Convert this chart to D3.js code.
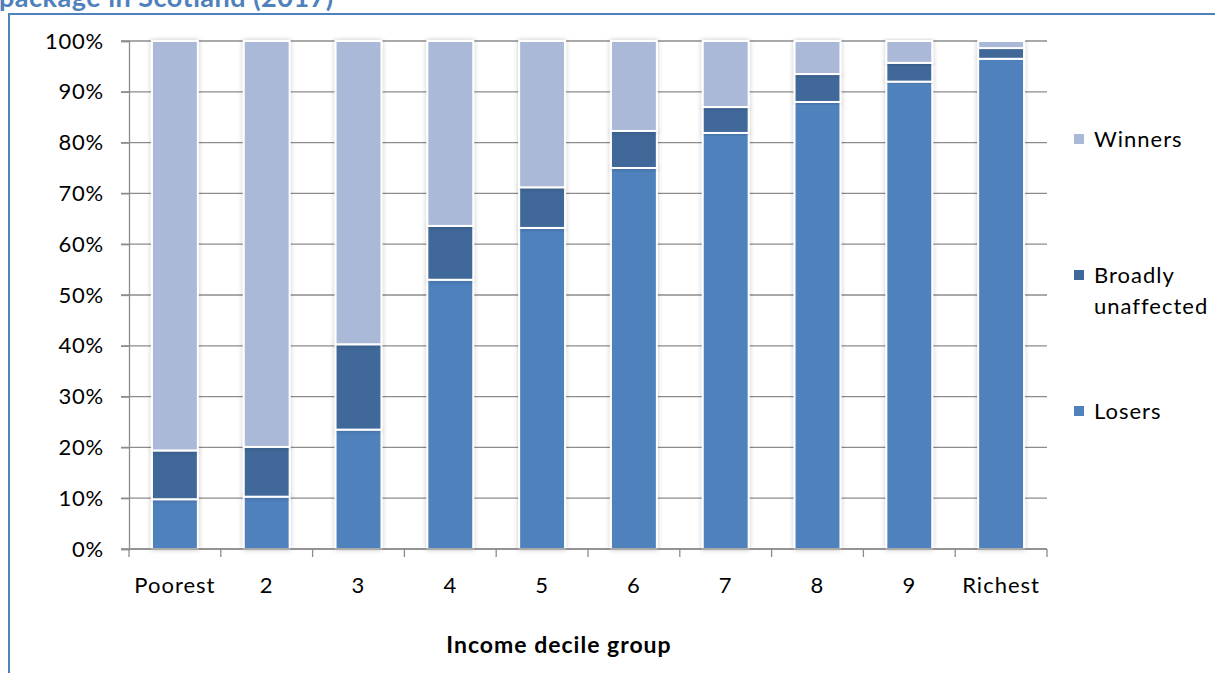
<!DOCTYPE html>
<html><head><meta charset="utf-8">
<script src="https://cdn.jsdelivr.net/npm/d3@7"></script>
<style>
body{margin:0;background:#fff;}
text{font-family:Lato,"Open Sans",sans-serif;}
</style></head>
<body>
<svg id="c" width="1215" height="673"></svg>
<script>
const categories = ["Poorest","2","3","4","5","6","7","8","9","Richest"];
const losers     = [9.8, 10.3, 23.5, 53.0, 63.2, 75.0, 81.9, 88.0, 92.0, 96.5];
const unaffected = [9.6, 9.8, 16.8, 10.6, 8.0, 7.3, 5.1, 5.5, 3.7, 2.1];
const winners    = categories.map((c,i)=> +(100 - losers[i] - unaffected[i]).toFixed(1));
const seriesNames = ["Losers","Broadly unaffected","Winners"];
const yTicks = [0,10,20,30,40,50,60,70,80,90,100];
const colors = {"Losers":"#4f81bd","Broadly unaffected":"#3f6899","Winners":"#aab9d8"};

const svg = d3.select("#c");
const rows = categories.map((c,i)=>({cat:c,"Losers":losers[i],"Broadly unaffected":unaffected[i],"Winners":winners[i]}));

// frame & cut title
svg.append("text").attr("x",-1).attr("y",7).attr("font-size",27).attr("font-weight","bold")
  .attr("letter-spacing",0.5).attr("fill","#4f81bd").text("package in Scotland (2017)");
svg.append("line").attr("x1",8).attr("x2",1215).attr("y1",14).attr("y2",14).attr("stroke","#4f81bd").attr("stroke-width",2);
svg.append("line").attr("x1",9).attr("x2",9).attr("y1",13).attr("y2",673).attr("stroke","#4f81bd").attr("stroke-width",2);

const x = d3.scaleBand().domain(categories).range([129,1047]).paddingInner(0.5).paddingOuter(0.25);
const y = d3.scaleLinear().domain([0,100]).range([549,41]);

const defs = svg.append("defs");
const f = defs.append("filter").attr("id","sh").attr("x","-30%").attr("y","-10%").attr("width","160%").attr("height","120%");
f.append("feDropShadow").attr("dx",0).attr("dy",0).attr("stdDeviation",2.5).attr("flood-color","#000").attr("flood-opacity",0.22);

// gridlines
svg.append("g").selectAll("line").data(yTicks).join("line")
  .attr("x1",121).attr("x2",1047).attr("y1",d=>y(d)).attr("y2",d=>y(d))
  .attr("stroke","#8c8c8c").attr("stroke-width",1.3);

// y axis
const yAxis = svg.append("g").attr("transform","translate(129,0)")
  .call(d3.axisLeft(y).tickValues(yTicks).tickFormat(d=>d+"%").tickSize(8).tickPadding(17));
yAxis.select(".domain").attr("stroke","#8c8c8c").attr("stroke-width",1.3);
yAxis.selectAll(".tick line").attr("stroke","#8c8c8c").attr("stroke-width",1.3);
yAxis.selectAll("text").attr("font-size",22).attr("letter-spacing",0.8).attr("fill","#000").style("font-family","Lato,'Open Sans',sans-serif");

// bars
const stack = d3.stack().keys(seriesNames)(rows);
svg.append("g").selectAll("g").data(stack).join("g")
  .attr("fill",d=>colors[d.key])
  .selectAll("rect").data(d=>d).join("rect")
  .attr("x",d=>x(d.data.cat)).attr("width",x.bandwidth())
  .attr("y",d=>y(d[1])).attr("height",d=>y(d[0])-y(d[1]))
  .attr("stroke","#fff").attr("stroke-width",2).attr("filter","url(#sh)");

// x axis
const xb = categories.map((c,i)=>129 + i*(918/10)).concat([1047]);
const xAxisG = svg.append("g");
xAxisG.append("line").attr("x1",129).attr("x2",1047).attr("y1",549).attr("y2",549).attr("stroke","#8c8c8c").attr("stroke-width",1.3);
xAxisG.selectAll("line.t").data(xb).join("line").attr("class","t")
  .attr("x1",d=>d).attr("x2",d=>d).attr("y1",549).attr("y2",557).attr("stroke","#8c8c8c").attr("stroke-width",1.3);
xAxisG.selectAll("text").data(categories).join("text")
  .attr("x",d=>x(d)+x.bandwidth()/2).attr("y",585).attr("dy","0.35em")
  .attr("text-anchor","middle").attr("font-size",22).attr("letter-spacing",1).attr("fill","#000").text(d=>d);

svg.append("text").attr("x",559).attr("y",645).attr("dy","0.35em").attr("text-anchor","middle")
  .attr("font-size",23).attr("letter-spacing",1).attr("font-weight","bold").attr("fill","#000").text("Income decile group");

// legend
const legend = [
  {k:"Winners", lines:["Winners"], y:139},
  {k:"Broadly unaffected", lines:["Broadly","unaffected"], y:275},
  {k:"Losers", lines:["Losers"], y:411}
];
const lg = svg.append("g");
legend.forEach(l=>{
  lg.append("rect").attr("x",1074).attr("y",l.y-5).attr("width",10).attr("height",10).attr("fill",colors[l.k]);
  const t = lg.append("text").attr("y",l.y).attr("font-size",22).attr("letter-spacing",1).attr("fill","#000");
  l.lines.forEach((s,i)=>t.append("tspan").attr("x",1094).attr("dy",i===0?"0.35em":"31").text(s));
});
</script>
</body></html>
